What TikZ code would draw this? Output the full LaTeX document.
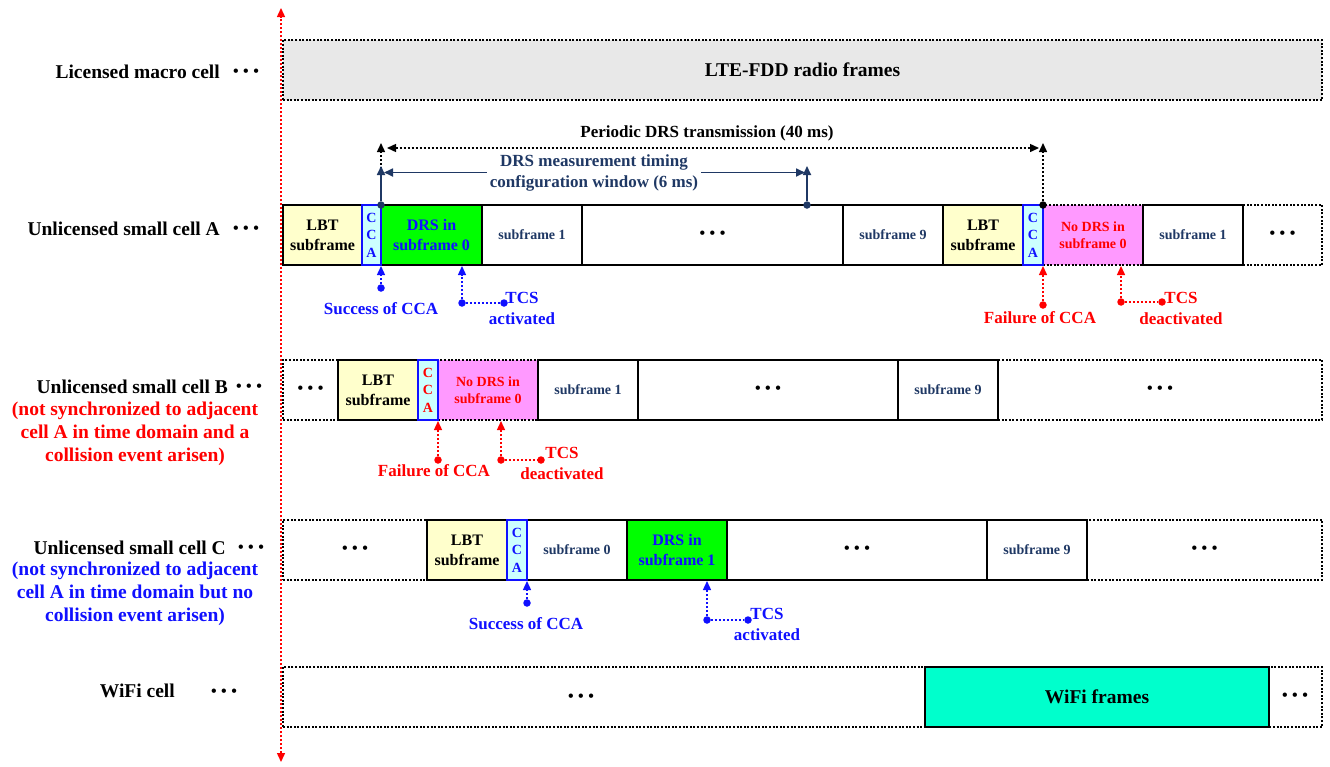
\documentclass[tikz,border=0pt]{standalone}
\usepackage{fontspec}
\setmainfont{Liberation Serif}
\usetikzlibrary{arrows.meta}

\definecolor{lbtyellow}{HTML}{FFFFCC}
\definecolor{ccacyan}{HTML}{CCFFFF}
\definecolor{drsgreen}{HTML}{00FF00}
\definecolor{nodrspink}{HTML}{FF99FF}
\definecolor{ltegray}{HTML}{E8E8E8}
\definecolor{wifiteal}{HTML}{00FFCC}
\definecolor{navyc}{HTML}{1F3864}
\definecolor{okblue}{HTML}{1010FF}
\definecolor{badred}{HTML}{FF0000}

% three bold dots used as an ellipsis
\newcommand\threedots{{\fontsize{16}{16}\selectfont\textbullet\hspace{4.5pt}\textbullet\hspace{4.5pt}\textbullet}}

\tikzset{
  every node/.style={font=\bfseries},
  cellbox/.style={draw=black, line width=1.7pt, inner sep=0pt, outer sep=0pt,
                  minimum height=60pt, align=center},
  dotframe/.style={cellbox, dash pattern=on 2pt off 1.6pt},
  subf/.style={cellbox, fill=white, text=navyc, font=\bfseries\fontsize{14}{17}\selectfont},
  lbt/.style={cellbox, fill=lbtyellow, font=\bfseries\fontsize{16}{20}\selectfont},
  cca/.style={cellbox, draw=okblue, fill=ccacyan, font=\bfseries\fontsize{14}{17.5}\selectfont},
  drs/.style={cellbox, fill=drsgreen, text=okblue, font=\bfseries\fontsize{16}{20}\selectfont},
  nodrs/.style={dotframe, fill=nodrspink, text=badred, font=\bfseries\fontsize{14}{17}\selectfont},
  dotsgap/.style={inner sep=0pt},
  cellname/.style={font=\bfseries\fontsize{19.5}{23}\selectfont, inner sep=0pt},
  annot/.style={font=\bfseries\fontsize{17}{21}\selectfont, inner sep=0pt, align=center},
  dotpin/.style={circle, inner sep=0pt, minimum size=7.5pt},
  ann/.style={line width=1.4pt, dash pattern=on 2pt off 2pt, shorten >=1pt,
              -{Triangle[length=9pt,width=8pt]}},
  annline/.style={line width=1.4pt, dash pattern=on 2pt off 2pt},
  perdash/.style={black, line width=1.4pt, dash pattern=on 2pt off 2pt,
                  -{Triangle[length=9pt,width=8pt]}},
  perdashboth/.style={black, line width=1.4pt, dash pattern=on 2pt off 2pt,
                  {Triangle[length=9pt,width=8pt]}-{Triangle[length=9pt,width=8pt]}},
  navyarrow/.style={navyc, line width=1.7pt, -{Triangle[length=9pt,width=8pt]}},
}

\begin{document}
\begin{tikzpicture}[x=1pt,y=-1pt]
\useasboundingbox (0,0) rectangle (1330,766);

% time axis
\coordinate (axTop) at (281,8);
\coordinate (axBot) at (281,762);
\draw[badred, line width=1.4pt, dash pattern=on 2pt off 2pt,
      {Triangle[length=9pt,width=8pt]}-{Triangle[length=9pt,width=8pt]}] (axBot) -- (axTop);

% licensed macro cell
\node[dotframe, fill=ltegray, minimum width=1039pt,
      font=\bfseries\fontsize{19.5}{23}\selectfont] (lte) at (802.5,70) {LTE-FDD radio frames};

% ---- unlicensed small cell A ----
\node[dotframe, minimum width=79pt] (tailA) at (1282.5,235) {\threedots};
\node[nodrs, minimum width=100pt] (nodrsA) at (1093,235) {No DRS in\\subframe 0};
\node[lbt, minimum width=79pt] (lbtA) at (322.5,235) {LBT\\subframe};
\node[drs, minimum width=101pt] (drsA) at (431.5,235) {DRS in\\subframe 0};
\node[subf, minimum width=100pt] (sfA1) at (532,235) {subframe 1};
\node[cellbox, fill=white, minimum width=261pt] (gapA) at (712.5,235) {\threedots};
\node[subf, minimum width=100pt] (sfA9) at (893,235) {subframe 9};
\node[lbt, minimum width=80pt] (lbtA2) at (983,235) {LBT\\subframe};
\node[subf, minimum width=100pt] (sfA1b) at (1193,235) {subframe 1};
\node[cca, text=okblue, minimum width=19pt] (ccaA) at (371.5,235) {C\\C\\A};
\node[cca, text=okblue, minimum width=20pt] (ccaA2) at (1033,235) {C\\C\\A};

% ---- unlicensed small cell B ----
\node[dotframe, minimum width=55pt] (headB) at (310.5,390) {\threedots};
\node[dotframe, minimum width=324pt] (tailB) at (1160,390) {\threedots};
\node[nodrs, minimum width=100pt] (nodrsB) at (488,390) {No DRS in\\subframe 0};
\node[lbt, minimum width=80pt] (lbtB) at (378,390) {LBT\\subframe};
\node[subf, minimum width=100pt] (sfB1) at (588,390) {subframe 1};
\node[cellbox, fill=white, minimum width=260pt] (gapB) at (768,390) {\threedots};
\node[subf, minimum width=100pt] (sfB9) at (948,390) {subframe 9};
\node[cca, text=badred, minimum width=20pt] (ccaB) at (428,390) {C\\C\\A};

% ---- unlicensed small cell C ----
\node[dotframe, minimum width=144pt] (headC) at (355,550) {\threedots};
\node[dotframe, minimum width=235pt] (tailC) at (1204.5,550) {\threedots};
\node[lbt, minimum width=80pt] (lbtC) at (467,550) {LBT\\subframe};
\node[subf, minimum width=100pt] (sfC0) at (577,550) {subframe 0};
\node[drs, minimum width=100pt] (drsC) at (677,550) {DRS in\\subframe 1};
\node[cellbox, fill=white, minimum width=260pt] (gapC) at (857,550) {\threedots};
\node[subf, minimum width=100pt] (sfC9) at (1037,550) {subframe 9};
\node[cca, text=okblue, minimum width=20pt] (ccaC) at (517,550) {C\\C\\A};

% ---- WiFi cell ----
\node[dotframe, minimum width=1039pt] (wifiRow) at (802.5,697) {};
\node[cellbox, fill=wifiteal, minimum width=344pt,
      font=\bfseries\fontsize{19.5}{23}\selectfont] (wifiF) at (1097,697) {WiFi frames};
\node[dotsgap] (dW1) at (581,698) {\threedots};
\node[dotsgap] (dW2) at (1295,697) {\threedots};

% ---- row names ----
\node[cellname, anchor=mid east] (nmLic) at (220,76) {Licensed macro cell};
\node[dotsgap] (dLic) at (246,73) {\threedots};
\node[cellname, anchor=mid east] (nmA) at (220,233) {Unlicensed small cell A};
\node[dotsgap] (dA) at (246,230) {\threedots};
\node[cellname, anchor=mid east] (nmB) at (228,391) {Unlicensed small cell B};
\node[dotsgap] (dB) at (249,388) {\threedots};
\node[cellname, align=center, text=badred] (ntB) at (135,434)
  {(not synchronized to adjacent\\cell A in time domain and a\\collision event arisen)};
\node[cellname, anchor=mid east] (nmC) at (226,552) {Unlicensed small cell C};
\node[dotsgap] (dC) at (251,549) {\threedots};
\node[cellname, align=center, text=okblue] (ntC) at (135,593.5)
  {(not synchronized to adjacent\\cell A in time domain but no\\collision event arisen)};
\node[cellname, anchor=mid east] (nmW) at (175,695) {WiFi cell};
\node[dotsgap] (dW) at (224,693) {\threedots};

% ---- periodic DRS transmission ----
\node[annot] (perT) at (707,133) {Periodic DRS transmission (40 ms)};
\node[dotpin, fill=navyc] (winL) at (drsA.north west) {};
\node[dotpin, fill=black] (perR) at (nodrsA.north west) {};
\coordinate (perLtop) at (381,143);
\coordinate (perRtop) at (1043,143);
\coordinate (perLh) at (387,148);
\coordinate (perRh) at (1039,148);
\draw[perdash] (winL) -- (perLtop);
\draw[perdash] (perR) -- (perRtop);
\draw[perdashboth] (perLh) -- (perRh);

% ---- DRS measurement timing configuration window ----
\node[annot, text=navyc, inner sep=3pt] (winT) at (594,172.5)
  {DRS measurement timing\\configuration window (6 ms)};
\node[dotpin, fill=navyc] (winR) at (807,205) {};
\coordinate (winLup) at (381,166);
\coordinate (winRup) at (807,166);
\draw[navyarrow] (winL) -- (winLup);
\draw[navyarrow] (winR) -- (winRup);
\draw[navyarrow, shorten >=3pt] (winT.west) -- (winT.west -| winL);
\draw[navyarrow, shorten >=2pt] (winT.east) -- (winT.east -| winR);

% ---- events of cell A ----
\node[dotpin, fill=okblue] (pSucA) at (381,288) {};
\draw[ann, okblue] (pSucA) -- (ccaA.south east);
\node[annot, text=okblue] (tSucA) at (381,309) {Success of CCA};
\node[dotpin, fill=okblue] (pTcsA) at (462,303) {};
\node[dotpin, fill=okblue] (qTcsA) at (504,303) {};
\draw[ann, okblue] (pTcsA) -- (pTcsA |- drsA.south);
\draw[annline, okblue] (pTcsA) -- (qTcsA);
\node[annot, text=okblue] (tTcsA) at (522,308) {TCS\\activated};

\node[dotpin, fill=badred] (pFailA) at (1043,305) {};
\draw[ann, badred] (pFailA) -- (ccaA2.south east);
\node[annot, text=badred] (tFailA) at (1040,318) {Failure of CCA};
\node[dotpin, fill=badred] (pTcdA) at (1121,302) {};
\node[dotpin, fill=badred] (qTcdA) at (1162,302) {};
\draw[ann, badred] (pTcdA) -- (pTcdA |- nodrsA.south);
\draw[annline, badred] (pTcdA) -- (qTcdA);
\node[annot, text=badred] (tTcdA) at (1181,308) {TCS\\deactivated};

% ---- events of cell B ----
\node[dotpin, fill=badred] (pFailB) at (438,460) {};
\draw[ann, badred] (pFailB) -- (ccaB.south east);
\node[annot, text=badred] (tFailB) at (434,471) {Failure of CCA};
\node[dotpin, fill=badred] (pTcdB) at (501,460) {};
\node[dotpin, fill=badred] (qTcdB) at (541,460) {};
\draw[ann, badred] (pTcdB) -- (pTcdB |- nodrsB.south);
\draw[annline, badred] (pTcdB) -- (qTcdB);
\node[annot, text=badred] (tTcdB) at (562,463.5) {TCS\\deactivated};

% ---- events of cell C ----
\node[dotpin, fill=okblue] (pSucC) at (527,603) {};
\draw[ann, okblue] (pSucC) -- (ccaC.south east);
\node[annot, text=okblue] (tSucC) at (526,624) {Success of CCA};
\node[dotpin, fill=okblue] (pTcsC) at (707,620) {};
\node[dotpin, fill=okblue] (qTcsC) at (748,620) {};
\draw[ann, okblue] (pTcsC) -- (pTcsC |- drsC.south);
\draw[annline, okblue] (pTcsC) -- (qTcsC);
\node[annot, text=okblue] (tTcsC) at (767,624.5) {TCS\\activated};
\end{tikzpicture}
\end{document}
